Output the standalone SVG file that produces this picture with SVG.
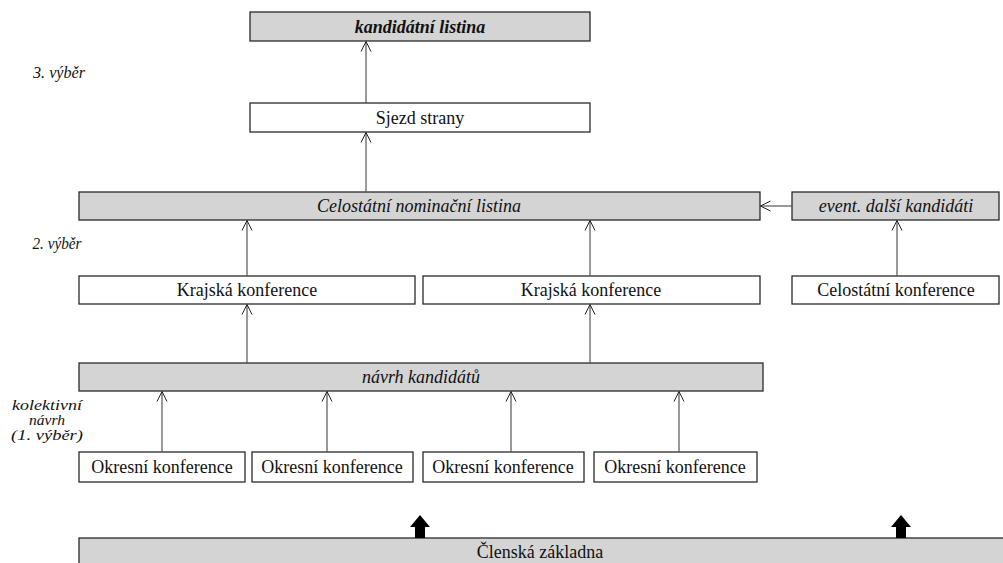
<svg xmlns="http://www.w3.org/2000/svg" width="1003" height="563" viewBox="0 0 1003 563">
  <style>
    .box { stroke: #2a2a2a; stroke-width: 1.3; }
    .grey { fill: #d4d4d4; }
    .white { fill: #ffffff; }
    text { font-family: 'Liberation Serif', Tinos, 'Noto Serif', 'DejaVu Serif', 'Nimbus Roman', FreeSerif, Times, serif; fill: #111; text-anchor: middle; }
    .t { font-size: 18px; }
    .it { font-style: italic; }
    .side { font-size: 16px; font-style: italic; }
    .side-s { font-size: 14px; font-style: italic; }
    .link { stroke: #555; stroke-width: 1.2; fill: none; marker-end: url(#open); }
  </style>
  <defs>
    <marker id="open" viewBox="0 0 12 12" refX="11" refY="6" markerWidth="12" markerHeight="12" markerUnits="userSpaceOnUse" orient="auto">
      <path d="M1,1 L11,6 L1,11" fill="none" stroke="#222" stroke-width="1"/>
    </marker>
    <path id="thick" d="M-5,23 L-5,12 L-10,12 L0,0 L10,12 L5,12 L5,23 Z" fill="#000"/>
  </defs>

  <!-- side labels -->
  <text class="side" x="59" y="78" textLength="52" lengthAdjust="spacingAndGlyphs">3. výběr</text>
  <text class="side" x="57" y="249" textLength="49" lengthAdjust="spacingAndGlyphs">2. výběr</text>
  <text class="side-s" x="47" y="410" textLength="70" lengthAdjust="spacingAndGlyphs">kolektivní</text>
  <text class="side-s" x="47" y="425" textLength="36" lengthAdjust="spacingAndGlyphs">návrh</text>
  <text class="side-s" x="47" y="440" textLength="72" lengthAdjust="spacingAndGlyphs">(1. výběr)</text>

  <!-- level 3 -->
  <g id="kandidatni-listina">
    <rect class="box grey" x="250" y="12" width="340" height="29"/>
    <text class="t it" x="420" y="33" font-weight="bold">kandidátní listina</text>
  </g>
  <g id="sjezd-strany">
    <rect class="box white" x="250" y="103" width="340" height="29"/>
    <text class="t" x="420" y="124">Sjezd strany</text>
  </g>

  <!-- level 2 -->
  <g id="celostatni-nominacni-listina">
    <rect class="box grey" x="79" y="192" width="681" height="28"/>
    <text class="t it" x="419" y="212">Celostátní nominační listina</text>
  </g>
  <g id="event-dalsi-kandidati">
    <rect class="box grey" x="792" y="192" width="207" height="28"/>
    <text class="t it" x="896" y="212">event. další kandidáti</text>
  </g>
  <g id="krajska-konference-1">
    <rect class="box white" x="79" y="276" width="336" height="28"/>
    <text class="t" x="247" y="296">Krajská konference</text>
  </g>
  <g id="krajska-konference-2">
    <rect class="box white" x="423" y="276" width="337" height="28"/>
    <text class="t" x="591" y="296">Krajská konference</text>
  </g>
  <g id="celostatni-konference">
    <rect class="box white" x="792" y="276" width="207" height="28"/>
    <text class="t" x="896" y="296">Celostátní konference</text>
  </g>

  <!-- level 1 -->
  <g id="navrh-kandidatu">
    <rect class="box grey" x="79" y="363" width="684" height="28"/>
    <text class="t it" x="421" y="383">návrh kandidátů</text>
  </g>
  <g id="okresni-konference-1">
    <rect class="box white" x="79" y="452" width="166" height="30"/>
    <text class="t" x="162" y="473">Okresní konference</text>
  </g>
  <g id="okresni-konference-2">
    <rect class="box white" x="252" y="452" width="161" height="30"/>
    <text class="t" x="332" y="473">Okresní konference</text>
  </g>
  <g id="okresni-konference-3">
    <rect class="box white" x="423" y="452" width="161" height="30"/>
    <text class="t" x="503" y="473">Okresní konference</text>
  </g>
  <g id="okresni-konference-4">
    <rect class="box white" x="594" y="452" width="163" height="30"/>
    <text class="t" x="675" y="473">Okresní konference</text>
  </g>

  <!-- membership base -->
  <g id="clenska-zakladna">
    <rect class="box grey" x="79" y="538" width="930" height="30"/>
    <text class="t" x="540" y="558">Členská základna</text>
  </g>

  <!-- connectors -->
  <g id="connectors">
    <line class="link" x1="366" y1="103" x2="366" y2="41.5"/>
    <line class="link" x1="366" y1="192" x2="366" y2="132.5"/>
    <line class="link" x1="247" y1="276" x2="247" y2="220.5"/>
    <line class="link" x1="590" y1="276" x2="590" y2="220.5"/>
    <line class="link" x1="897" y1="276" x2="897" y2="220.5"/>
    <line class="link" x1="792" y1="206" x2="760.5" y2="206"/>
    <line class="link" x1="247" y1="363" x2="247" y2="304.5"/>
    <line class="link" x1="590" y1="363" x2="590" y2="304.5"/>
    <line class="link" x1="162" y1="452" x2="162" y2="391.5"/>
    <line class="link" x1="327" y1="452" x2="327" y2="391.5"/>
    <line class="link" x1="511" y1="452" x2="511" y2="391.5"/>
    <line class="link" x1="679" y1="452" x2="679" y2="391.5"/>
    <use href="#thick" x="420" y="515"/>
    <use href="#thick" x="901" y="515"/>
  </g>
</svg>
